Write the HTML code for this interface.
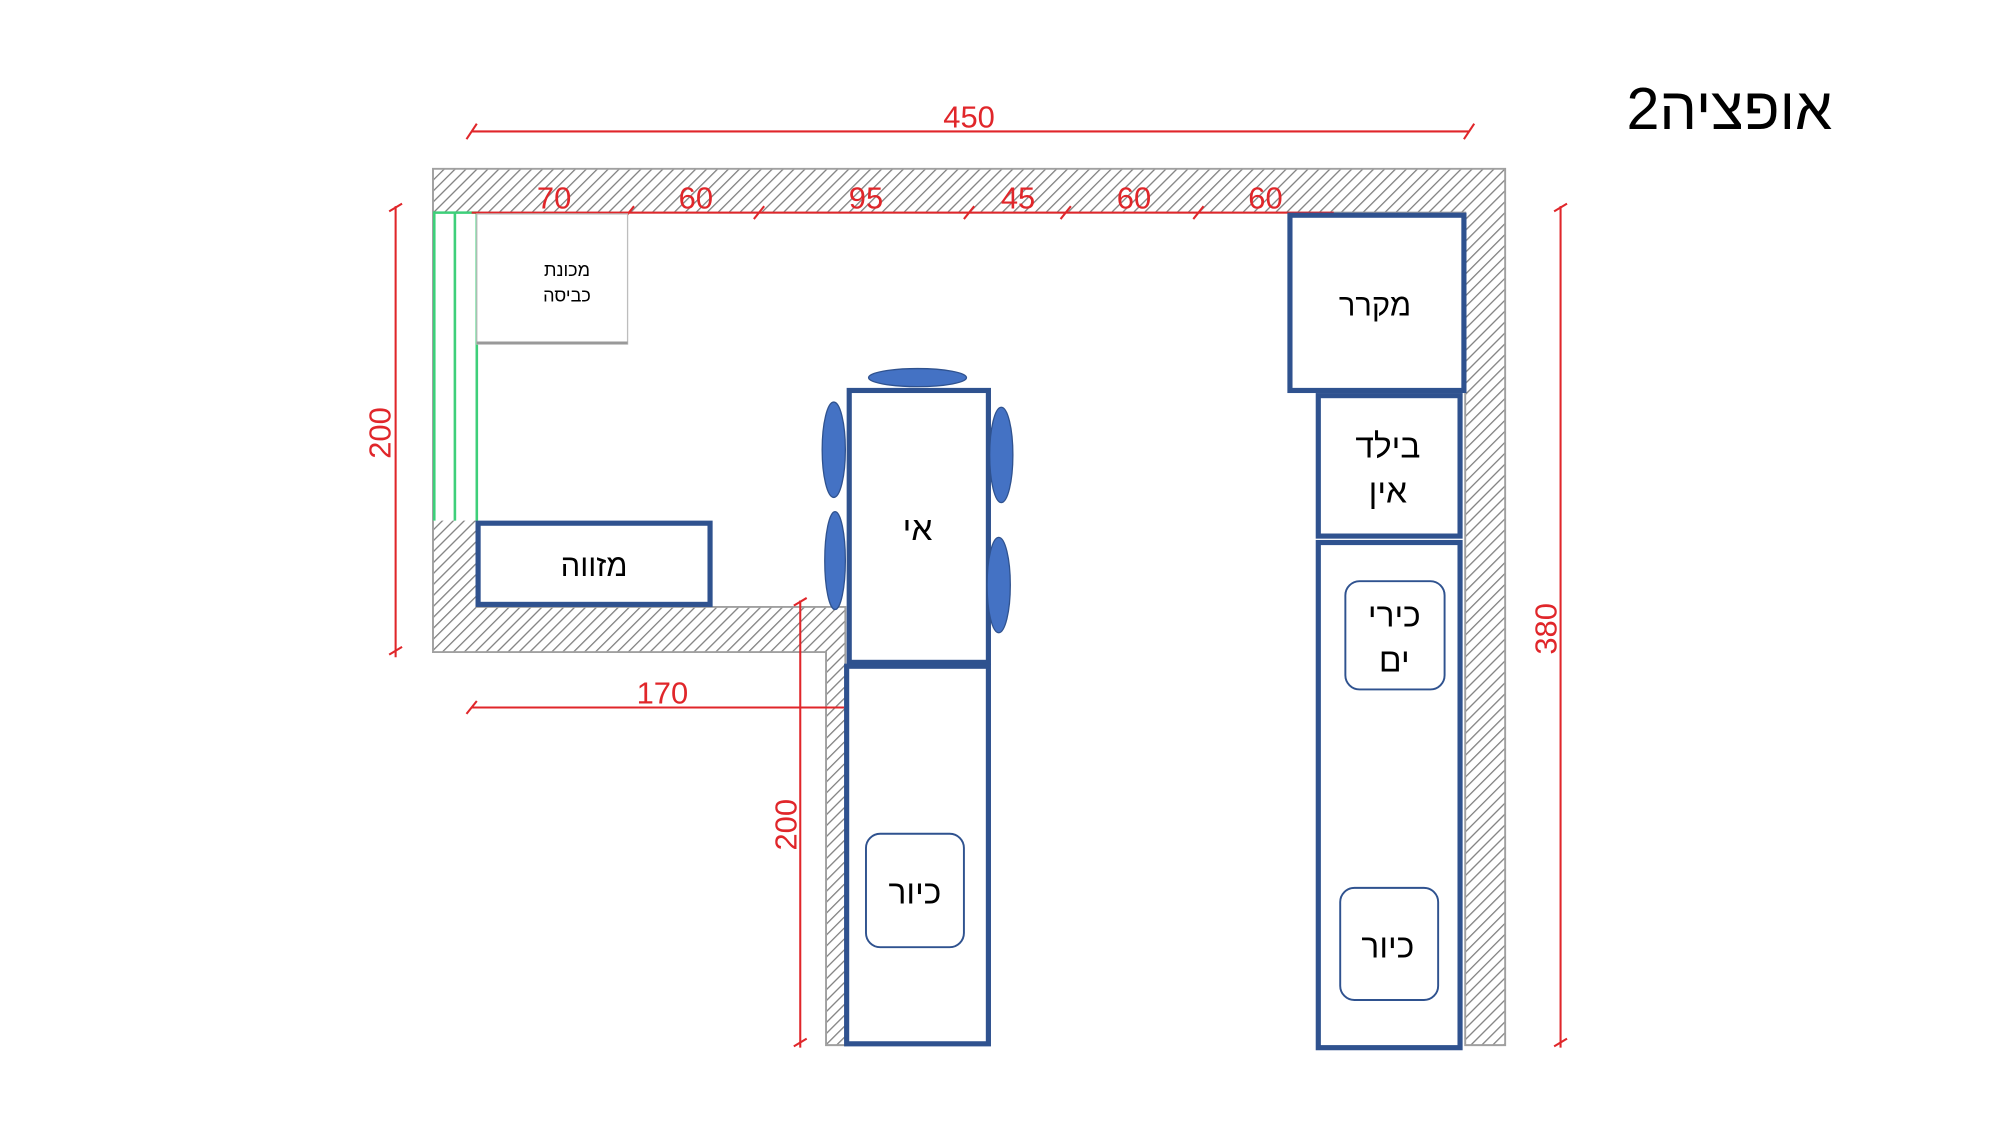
<!DOCTYPE html>
<html><head><meta charset="utf-8"><style>
html,body{margin:0;padding:0;background:#fff;}
svg{display:block;}
.h{font-family:"Liberation Sans","DejaVu Sans",sans-serif;fill:#000;text-anchor:middle;}
.d{font-family:"Liberation Sans Narrow","Liberation Sans",sans-serif;fill:#e0262a;text-anchor:middle;font-size:24px;}
</style></head><body>
<svg width="2000" height="1125" viewBox="0 0 1552 873" xmlns="http://www.w3.org/2000/svg">
<defs>
<pattern id="hat" width="6" height="6" patternUnits="userSpaceOnUse" patternTransform="rotate(45)">
<rect width="6" height="6" fill="#fff"/>
<line x1="0" y1="0" x2="0" y2="6" stroke="#808080" stroke-width="2"/>
</pattern>
</defs>
<rect width="1552" height="873" fill="#fff"/>
<text class="h" x="1342" y="100" font-size="46" direction="rtl" unicode-bidi="embed">אופציה2</text>

<!-- walls -->
<path d="M336 131 H1168 V811 H1137 V165 H370 V471 H656 V811 H641 V506 H336 Z" fill="url(#hat)" stroke="#a0a0a0" stroke-width="1.5"/>
<!-- window -->
<rect x="336" y="165" width="34" height="239" fill="#fff"/>
<g stroke="#3ecf7a" stroke-width="2"><line x1="337" y1="165" x2="337" y2="404"/><line x1="353" y1="165" x2="353" y2="404"/><line x1="370" y1="165" x2="370" y2="404"/><line x1="336" y1="165" x2="370" y2="165"/></g>

<!-- dimensions -->
<g stroke="#e0262a" stroke-width="1.6" fill="none">
<line x1="366" y1="102" x2="1140" y2="102"/>
<line x1="362" y1="108" x2="370" y2="96"/><line x1="1136" y1="108" x2="1144" y2="96"/>
<line x1="366" y1="165" x2="1035" y2="165"/>
<line x1="484" y1="170" x2="492" y2="160"/><line x1="585" y1="170" x2="593" y2="160"/><line x1="748" y1="170" x2="756" y2="160"/><line x1="823" y1="170" x2="831" y2="160"/><line x1="926" y1="170" x2="934" y2="160"/>
<line x1="307" y1="160" x2="307" y2="510"/>
<line x1="302" y1="164" x2="312" y2="158"/><line x1="302" y1="508" x2="312" y2="502"/>
<line x1="1211" y1="160" x2="1211" y2="813"/>
<line x1="1206" y1="164" x2="1216" y2="158"/><line x1="1206" y1="812" x2="1216" y2="806"/>
<line x1="366" y1="549" x2="655" y2="549"/>
<line x1="362" y1="554" x2="370" y2="544"/>
<line x1="621" y1="466" x2="621" y2="813"/>
<line x1="616" y1="470" x2="626" y2="464"/><line x1="616" y1="812" x2="626" y2="806"/>
</g>
<text class="d" x="752" y="99">450</text>
<text class="d" x="430" y="162">70</text>
<text class="d" x="540" y="162">60</text>
<text class="d" x="672" y="162">95</text>
<text class="d" x="790" y="162">45</text>
<text class="d" x="880" y="162">60</text>
<text class="d" x="982" y="162">60</text>
<text class="d" x="514" y="546">170</text>
<text class="d" transform="translate(303,336) rotate(-90)">200</text>
<text class="d" transform="translate(618,640) rotate(-90)">200</text>
<text class="d" transform="translate(1208,488) rotate(-90)">380</text>

<!-- washing machine -->
<rect x="370" y="166" width="117" height="101" fill="#fff" stroke="#bdbdbd" stroke-width="1"/>
<line x1="370" y1="266" x2="487" y2="266" stroke="#999" stroke-width="2"/>
<text class="h" x="440" y="214" font-size="14">מכונת</text>
<text class="h" x="440" y="234" font-size="14">כביסה</text>

<g fill="#fff" stroke="#2f528f" stroke-width="4">
<rect x="371" y="406" width="180" height="63"/>
<rect x="659" y="303" width="108" height="211"/>
<rect x="657" y="517" width="110" height="293"/>
<rect x="1001" y="167" width="135" height="136"/>
<rect x="1023" y="307" width="110" height="109"/>
<rect x="1023" y="421" width="110" height="392"/>
</g>
<g fill="#fff" stroke="#2f528f" stroke-width="1.5">
<rect x="672" y="647" width="76" height="88" rx="11"/>
<rect x="1044" y="451" width="77" height="84" rx="11"/>
<rect x="1040" y="689" width="76" height="87" rx="11"/>
</g>
<g fill="#4472c4" stroke="#2f528f" stroke-width="1">
<ellipse cx="712" cy="293" rx="38" ry="7"/>
<ellipse cx="647" cy="349" rx="9" ry="37"/>
<ellipse cx="648" cy="435" rx="8" ry="38"/>
<ellipse cx="777" cy="353" rx="9" ry="37"/>
<ellipse cx="775" cy="454" rx="9" ry="37"/>
</g>
<text class="h" x="461" y="447" font-size="24">מזווה</text>
<text class="h" x="712" y="419" font-size="26">אי</text>
<text class="h" x="710" y="701" font-size="26">כיור</text>
<text class="h" x="1067" y="245" font-size="24">מקרר</text>
<text class="h" x="1077" y="355" font-size="26">בילד</text>
<text class="h" x="1077" y="390" font-size="26">אין</text>
<text class="h" x="1082" y="486" font-size="26">כירי</text>
<text class="h" x="1082" y="521" font-size="26">ים</text>
<text class="h" x="1077" y="743" font-size="26">כיור</text>
</svg>
</body></html>
